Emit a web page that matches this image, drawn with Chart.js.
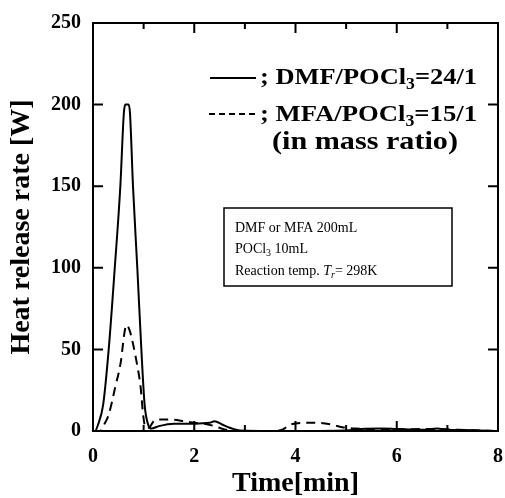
<!DOCTYPE html>
<html>
<head>
<meta charset="utf-8">
<script src="https://cdn.jsdelivr.net/npm/chart.js@4"></script>
<style>
  html, body { margin: 0; padding: 0; background: #fff; }
  #wrap { width: 505px; height: 498px; }
</style>
</head>
<body>
<div id="wrap"><canvas id="heatChart" width="505" height="498"></canvas></div>
<script>
// Daten (Zeit in min, Wärmefreisetzung in W)
const dmfTime  = [0, 0.04, 0.1, 0.2, 0.31, 0.43, 0.54, 0.61, 0.64, 0.70, 0.73, 0.79, 0.875, 0.955, 1.02, 1.1, 1.15, 1.3, 1.6, 2.0, 2.3, 2.4, 2.55, 2.7, 2.9, 3.5, 4.0, 5.0, 5.3, 5.7, 6.0, 6.5, 6.8, 7.0, 7.5, 8.0];
const dmfHeat  = [0, 0, 4, 16, 50, 100, 150, 195, 200, 200, 195, 150, 100, 50, 16, 3, 1.5, 3, 4.5, 4.5, 5, 6, 4, 2, 0.3, 0, 0, 0.3, 1.3, 1.5, 1.2, 0.8, 1.5, 0.8, 0.5, 0];

const mfaTime  = [0, 0.14, 0.22, 0.31, 0.44, 0.55, 0.62, 0.66, 0.72, 0.8, 0.86, 0.94, 0.99, 1.04, 1.1, 1.2, 1.3, 1.5, 1.8, 2.0, 2.2, 2.4, 2.6, 3.0, 3.6, 3.75, 3.9, 4.2, 4.4, 4.7, 4.95, 5.2, 5.6, 6.0, 6.6, 7.0, 7.4, 8.0];
const mfaHeat  = [0, 0, 4, 10, 27, 42.5, 60, 65, 62, 52, 42.5, 27, 10, 2, 2, 6, 7, 7, 6, 5, 4.5, 3, 1, 0, 0, 1, 4, 5, 5, 4, 2.2, 1.5, 1.2, 1, 1.2, 1, 0.5, 0];

const xTicks = [0, 2, 4, 6, 8];
const xMinorTicks = [1, 3, 5, 7];
const yTicks = [0, 50, 100, 150, 200, 250];

const SERIF = '"Liberation Serif", "DejaVu Serif", serif';

function toPoints(xs, ys) {
    return xs.map((x, i) => ({ x: x, y: ys[i] }));
}

// Text mit Tief- und Kursivsatz zeichnen, optional auf Zielbreite gestreckt
function drawRuns(ctx, x, y, runs, size, weight, targetWidth) {
    const fontOf = r => (r.italic ? 'italic ' : '') + weight + ' ' + (r.sub ? Math.round(size * 0.68) : size) + 'px ' + SERIF;
    let total = 0;
    runs.forEach(r => { ctx.font = fontOf(r); total += ctx.measureText(r.t).width; });
    const k = targetWidth ? targetWidth / total : 1;
    ctx.save();
    ctx.translate(x, y);
    ctx.scale(k, 1);
    let cx = 0;
    runs.forEach(r => {
        ctx.font = fontOf(r);
        ctx.fillText(r.t, cx, r.sub ? size * 0.2 : 0);
        cx += ctx.measureText(r.t).width;
    });
    ctx.restore();
}

// Rahmen und nach innen zeigende Striche auf allen vier Seiten
const frameTicks = {
    id: 'frameTicks',
    afterDatasetsDraw(chart) {
        const ctx = chart.ctx;
        const a = chart.chartArea;
        const xs = chart.scales.x;
        const ys = chart.scales.y;
        ctx.save();
        ctx.strokeStyle = '#000';
        ctx.lineWidth = 2;
        ctx.strokeRect(a.left, a.top, a.right - a.left, a.bottom - a.top);
        ctx.beginPath();
        xTicks.concat(xMinorTicks).forEach(v => {
            const px = xs.getPixelForValue(v);
            const len = xTicks.includes(v) ? 10 : 6;
            ctx.moveTo(px, a.bottom); ctx.lineTo(px, a.bottom - len);
            ctx.moveTo(px, a.top); ctx.lineTo(px, a.top + len);
        });
        yTicks.forEach(v => {
            const py = ys.getPixelForValue(v);
            ctx.moveTo(a.left, py); ctx.lineTo(a.left + 10, py);
            ctx.moveTo(a.right, py); ctx.lineTo(a.right - 10, py);
        });
        ctx.stroke();
        ctx.restore();
    }
};

// Legende und Textkasten
const notes = {
    id: 'notes',
    afterDraw(chart) {
        const ctx = chart.ctx;
        ctx.save();
        ctx.fillStyle = '#000';
        ctx.strokeStyle = '#000';
        ctx.textBaseline = 'alphabetic';
        ctx.textAlign = 'left';

        ctx.lineWidth = 2;
        ctx.beginPath();
        ctx.moveTo(210, 78); ctx.lineTo(256, 78);
        ctx.stroke();
        ctx.setLineDash([6, 4]);
        ctx.beginPath();
        ctx.moveTo(209, 114); ctx.lineTo(258, 114);
        ctx.stroke();
        ctx.setLineDash([]);

        drawRuns(ctx, 260, 84, [{ t: '; DMF/POCl' }, { t: '3', sub: true }, { t: '=24/1' }], 24, 'bold', 217);
        drawRuns(ctx, 260, 121, [{ t: '; MFA/POCl' }, { t: '3', sub: true }, { t: '=15/1' }], 24, 'bold', 217);
        drawRuns(ctx, 272, 149, [{ t: '(in mass ratio)' }], 25, 'bold', 186);

        ctx.lineWidth = 1.5;
        ctx.strokeRect(224, 208, 228, 78);
        drawRuns(ctx, 235, 232, [{ t: 'DMF or MFA 200mL' }], 14, 'normal');
        drawRuns(ctx, 235, 253, [{ t: 'POCl' }, { t: '3', sub: true }, { t: ' 10mL' }], 14, 'normal');
        drawRuns(ctx, 235, 275, [{ t: 'Reaction temp. ' }, { t: 'T', italic: true }, { t: 'r', italic: true, sub: true }, { t: '= 298K' }], 14, 'normal');
        ctx.restore();
    }
};

const chartCanvas = document.getElementById('heatChart').getContext('2d');
new Chart(chartCanvas, {
    type: 'line',
    data: {
        datasets: [{
            label: 'DMF/POCl3=24/1',
            data: toPoints(dmfTime, dmfHeat),
            borderColor: '#000',
            borderWidth: 2,
            pointRadius: 0,
            cubicInterpolationMode: 'monotone',
            fill: false
        }, {
            label: 'MFA/POCl3=15/1',
            data: toPoints(mfaTime, mfaHeat),
            borderColor: '#000',
            borderWidth: 2,
            borderDash: [9, 6],
            pointRadius: 0,
            cubicInterpolationMode: 'monotone',
            fill: false
        }]
    },
    options: {
        responsive: false,
        animation: false,
        events: [],
        layout: { padding: { top: 23, right: 7, left: 0, bottom: 0 } },
        plugins: {
            legend: { display: false },
            tooltip: { enabled: false }
        },
        scales: {
            x: {
                type: 'linear',
                min: 0,
                max: 8,
                afterFit: s => { s.height = 67; s.paddingLeft = 0; s.paddingRight = 0; },
                afterBuildTicks: s => { s.ticks = xTicks.map(v => ({ value: v })); },
                grid: { display: false, drawTicks: false },
                border: { display: false },
                ticks: {
                    color: '#000',
                    padding: 14,
                    maxRotation: 0,
                    font: { family: SERIF, size: 20, weight: 'bold' }
                },
                title: {
                    display: true,
                    text: 'Time[min]',
                    color: '#000',
                    padding: 0,
                    font: { family: SERIF, size: 28, weight: 'bold', lineHeight: 1.0 }
                }
            },
            y: {
                type: 'linear',
                min: 0,
                max: 250,
                afterFit: s => { s.width = 93; s.paddingTop = 0; s.paddingBottom = 0; },
                afterBuildTicks: s => { s.ticks = yTicks.map(v => ({ value: v })); },
                grid: { display: false, drawTicks: false },
                border: { display: false },
                ticks: {
                    color: '#000',
                    padding: 12,
                    font: { family: SERIF, size: 20, weight: 'bold' }
                },
                title: {
                    display: true,
                    text: 'Heat release rate [W]',
                    color: '#000',
                    padding: { top: 8, bottom: 0 },
                    font: { family: SERIF, size: 28, weight: 'bold', lineHeight: 1.0 }
                }
            }
        }
    },
    plugins: [frameTicks, notes]
});
</script>
</body>
</html>
